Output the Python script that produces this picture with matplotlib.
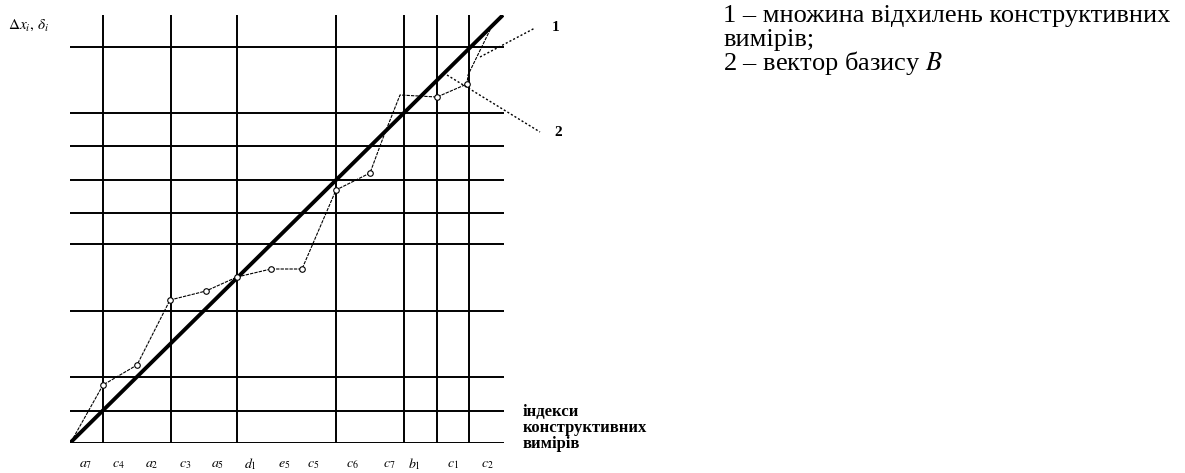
import matplotlib
matplotlib.use('Agg')
import matplotlib.pyplot as plt

plt.rcParams['font.family'] = ['Liberation Serif', 'DejaVu Serif']
plt.rcParams['mathtext.fontset'] = 'stix'

W, H = 1185, 473

# grid of construction measurements
grid_x = [33, 101, 167, 266, 334, 367, 399]
grid_y = [0, 32, 66, 132, 199, 230, 263, 297, 330, 396]

# basis vector B
basis_x = [0, 433]
basis_y = [0, 428]

# set of deviations of construction measurements
dev_x = [1, 33, 67, 100, 136, 167, 201, 232, 266, 300, 313, 330, 367, 397, 398, 420]
dev_y = [1, 58, 78, 143, 152, 166, 174, 174, 253, 270, 305, 348, 346, 359, 368, 413]
dev_marked = [1, 2, 3, 4, 5, 6, 7, 8, 9, 12, 13]

# measurement indices along the bottom
tick_pos = [16, 48, 82, 115, 148, 180, 214, 243, 282, 319, 344, 383, 417]
tick_labels = ['a_7', 'c_4', 'a_2', 'c_3', 'a_5', 'd_1', 'e_5', 'c_5',
               'c_6', 'c_7', 'b_1', 'c_1', 'c_2']

fig = plt.figure(figsize=(W / 100, H / 100), dpi=100)
ax = fig.add_axes([70 / W, 30 / H, 434 / W, 428 / H])
ax.set_xlim(0, 434)
ax.set_ylim(0, 428)
ax.axis('off')

ax.vlines(grid_x, 0, 428, color='black', lw=1.4)
ax.hlines(grid_y, 0, 434, color='black', lw=1.4)

ax.plot(basis_x, basis_y, color='black', lw=2.8, solid_capstyle='butt')
ax.plot(dev_x, dev_y, color='black', lw=0.8, ls=(0, (3, 1)),
        marker='o', ms=4, mfc='white', mec='black', mew=0.8,
        markevery=dev_marked)

# leaders to the numbered notes
ax.plot([410, 465], [386, 415], color='black', lw=1, ls=(0, (1.5, 1.5)), clip_on=False)
ax.plot([377, 470], [368, 311], color='black', lw=1, ls=(0, (1.5, 1.5)), clip_on=False)
ax.text(486, 415, '1', fontsize=11, fontweight='bold', ha='center', va='center', clip_on=False)
ax.text(488, 311, '2', fontsize=11, fontweight='bold', ha='center', va='center', clip_on=False)

for xp, lab in zip(tick_pos, tick_labels):
    ax.text(xp, -21, f'${lab}$', fontsize=10, ha='center', va='center', clip_on=False)

fig.text(8 / W, 1 - 25 / H, r'$\Delta x_i,\,\delta_i$', fontsize=11, va='center')
fig.text(523 / W, 1 - 452 / H, 'індекси\nконструктивних\nвимірів', fontsize=12,
         fontweight='bold', va='bottom', ha='left', linespacing=1.0)

fig.text(723 / W, 1 - 22 / H, '1 – множина відхилень конструктивних', fontsize=19, va='baseline')
fig.text(723 / W, 1 - 46 / H, 'вимірів;', fontsize=19, va='baseline')
fig.text(723 / W, 1 - 70 / H, r'2 – вектор базису $B$', fontsize=19, va='baseline')

fig.savefig('out.png', dpi=100, facecolor='white')
